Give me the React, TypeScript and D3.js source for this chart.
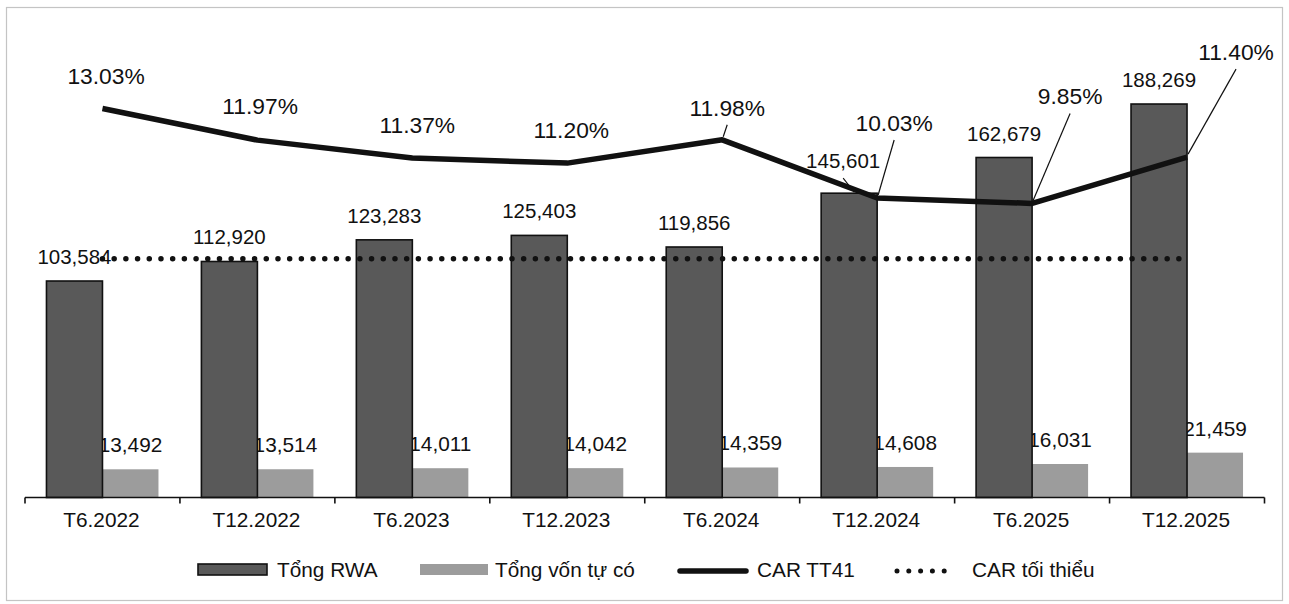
import React from "react";
import * as d3 from "d3";

const categories = ["T6.2022", "T12.2022", "T6.2023", "T12.2023", "T6.2024", "T12.2024", "T6.2025", "T12.2025"];
const tongRWA = [103584, 112920, 123283, 125403, 119856, 145601, 162679, 188269];
const tongVonTuCo = [13492, 13514, 14011, 14042, 14359, 14608, 16031, 21459];
const carTT41 = [13.03, 11.97, 11.37, 11.2, 11.98, 10.03, 9.85, 11.4];
const carToiThieu = [8, 8, 8, 8, 8, 8, 8, 8];
const legendLabels = ["Tổng RWA", "Tổng vốn tự có", "CAR TT41", "CAR tối thiểu"];

// layout (label nudges, as in the reference)
const carLabelNudge = [
  { dx: 3.6, dy: -24.5, leader: false },
  { dx: 2.7, dy: -26, leader: false },
  { dx: 5, dy: -25, leader: false },
  { dx: 4, dy: -25, leader: false },
  { dx: 5, dy: -24, leader: true },
  { dx: 17, dy: -67, leader: true },
  { dx: 38, dy: -99, leader: true },
  { dx: 49, dy: -97, leader: true },
];
const rwaLabelNudge = [
  { dx: 0, dy: -17, leader: false },
  { dx: 0, dy: -17, leader: false },
  { dx: 0, dy: -17, leader: false },
  { dx: 0, dy: -17, leader: false },
  { dx: 0, dy: -17, leader: false },
  { dx: -6, dy: -25, leader: true },
  { dx: 0, dy: -17, leader: false },
  { dx: 0, dy: -17, leader: false },
];

const W = 1289;
const H = 604;
const FONT = "'Liberation Sans', Arial, sans-serif";
const DARK = "#595959";
const LIGHT = "#9c9c9c";
const INK = "#111";

export default function App() {
  const baseY = 497.5;
  const plotH = 418;
  const x = d3.scaleBand<string>().domain(categories).range([25, 1264.5]).padding(0);
  const yL = d3.scaleLinear().domain([0, 200000]).range([baseY, baseY - plotH]);
  const yR = d3.scaleLinear().domain([0, 14]).range([baseY, baseY - plotH]);
  const barW = 56;
  const cx = (c: string) => (x(c) as number) + x.bandwidth() / 2;
  const fmt = d3.format(",");

  const carLine = d3
    .line<number>()
    .x((_, i) => cx(categories[i]))
    .y((v) => yR(v));
  const minLine = d3
    .line<number>()
    .x((_, i) => cx(categories[i]))
    .y((v) => yR(v));

  const ticks = d3.range(categories.length + 1).map((i) => 25 + i * x.bandwidth());

  const legendY = 570;

  return (
    <svg width={W} height={H} style={{ display: "block", position: "absolute", left: 0, top: 0 }} fontFamily={FONT}>
      <rect x={0} y={0} width={W} height={H} fill="#fff" />
      <rect x={6.5} y={7.5} width={1276} height={593} fill="none" stroke="#c4c4c4" strokeWidth={1.2} />

      {/* vốn labels (behind bars) */}
      {tongVonTuCo.map((v, i) => (
        <text key={"vl" + i} x={cx(categories[i]) + barW / 2} y={yL(v) - 17} textAnchor="middle" fontSize={20.8} fill={INK}>
          {fmt(v)}
        </text>
      ))}

      {/* bars */}
      {tongVonTuCo.map((v, i) => (
        <rect key={"vb" + i} x={cx(categories[i])} y={yL(v)} width={barW} height={baseY - yL(v)} fill={LIGHT} />
      ))}
      {tongRWA.map((v, i) => (
        <rect
          key={"rb" + i}
          x={cx(categories[i]) - barW}
          y={yL(v)}
          width={barW}
          height={baseY - yL(v)}
          fill={DARK}
          stroke={INK}
          strokeWidth={1.6}
        />
      ))}

      {/* RWA labels */}
      {tongRWA.map((v, i) => {
        const n = rwaLabelNudge[i];
        const bx = cx(categories[i]) - barW / 2;
        const lx = bx + n.dx;
        const ly = yL(v) + n.dy;
        return (
          <g key={"rl" + i}>
            <text x={lx} y={ly} textAnchor="middle" fontSize={20.5} fill={INK}>
              {fmt(v)}
            </text>
            {n.leader && <line x1={lx} y1={ly + 10} x2={bx + 5} y2={yL(v) - 1} stroke={INK} strokeWidth={1.1} />}
          </g>
        );
      })}

      {/* axis */}
      <line x1={25} x2={1264.5} y1={baseY} y2={baseY} stroke={INK} strokeWidth={1.6} />
      {ticks.map((t, i) => (
        <line key={"t" + i} x1={t} x2={t} y1={baseY} y2={baseY + 6} stroke={INK} strokeWidth={1.6} />
      ))}
      {categories.map((c) => (
        <text key={c} x={cx(c) - 1} y={527} textAnchor="middle" fontSize={20.8} fill={INK}>
          {c}
        </text>
      ))}

      {/* CAR minimum dotted */}
      <path
        d={minLine(carToiThieu) || ""}
        fill="none"
        stroke={INK}
        strokeWidth={5.5}
        strokeLinecap="round"
        strokeDasharray="0 11.7"
      />

      {/* CAR TT41 line */}
      <path d={carLine(carTT41) || ""} fill="none" stroke={INK} strokeWidth={5.5} strokeLinejoin="round" />

      {/* CAR labels */}
      {carTT41.map((v, i) => {
        const n = carLabelNudge[i];
        const px = cx(categories[i]);
        const py = yR(v);
        const lx = px + n.dx;
        const ly = py + n.dy;
        return (
          <g key={"cl" + i}>
            <text x={lx} y={ly} textAnchor="middle" fontSize={22.8} fill={INK}>
              {v.toFixed(2) + "%"}
            </text>
            {n.leader && <line x1={lx} y1={ly + 9} x2={px + 1} y2={py - 3} stroke={INK} strokeWidth={1.2} />}
          </g>
        );
      })}

      {/* legend */}
      <g fontSize={20.8} fill={INK}>
        <rect x={198} y={legendY - 6} width={69} height={11} fill={DARK} stroke={INK} strokeWidth={1.6} />
        <text x={277} y={legendY + 7}>{legendLabels[0]}</text>
        <rect x={420} y={legendY - 6} width={68} height={11} fill={LIGHT} />
        <text x={495} y={legendY + 7}>{legendLabels[1]}</text>
        <line x1={680} x2={746} y1={legendY + 1} y2={legendY + 1} stroke={INK} strokeWidth={5.5} strokeLinecap="round" />
        <text x={757} y={legendY + 7}>{legendLabels[2]}</text>
        <line
          x1={897}
          x2={956}
          y1={legendY + 1}
          y2={legendY + 1}
          stroke={INK}
          strokeWidth={5}
          strokeLinecap="round"
          strokeDasharray="0 11.8"
        />
        <text x={972} y={legendY + 7}>{legendLabels[3]}</text>
      </g>
    </svg>
  );
}
